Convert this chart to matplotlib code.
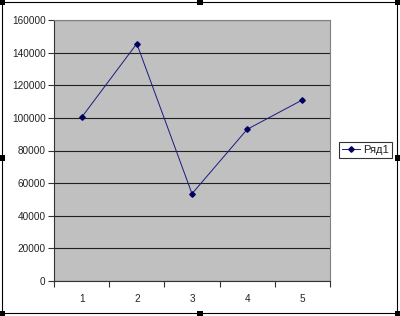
import matplotlib
matplotlib.use("Agg")
import matplotlib.pyplot as plt
from matplotlib.patches import Rectangle
from matplotlib.ticker import FixedLocator

categories = ["1", "2", "3", "4", "5"]
values = [100300, 145500, 53500, 93000, 111000]
series_name = "Ряд1"
yticks = [0, 20000, 40000, 60000, 80000, 100000, 120000, 140000, 160000]

plt.rcParams['font.family'] = ['Liberation Sans', 'DejaVu Sans']
fig = plt.figure(figsize=(4.0, 3.16), dpi=100)
ax = fig.add_axes([54/400, 35/316, 276/400, 261/316])
ax.set_facecolor('#C0C0C0')
x = list(range(1, len(categories) + 1))
ax.plot(x, values, color='#1a1a80', lw=0.7, marker='D', ms=2.8,
        mfc='#000060', mec='#000060', label=series_name)
ax.set_xlim(0.5, len(categories) + 0.5)
ax.set_ylim(0, 160000)
ax.set_yticks(yticks)
ax.set_yticklabels([str(v) for v in yticks])
ax.set_xticks(x)
ax.set_xticklabels(categories)
ax.xaxis.set_minor_locator(FixedLocator([i + 0.5 for i in range(0, len(categories) + 1)]))
ax.tick_params(axis='x', which='major', length=0, pad=9, labelsize=7.2, colors='#222222')
ax.tick_params(axis='x', which='minor', length=4, width=0.8, color='#333333', direction='out')
ax.tick_params(axis='y', which='major', length=4, width=0.8, color='#333333', labelsize=7.2, pad=2, labelcolor='#222222')
ax.grid(axis='y', color='#202020', lw=0.8)
ax.set_axisbelow(True)
for s in ['top', 'right']:
    ax.spines[s].set_color('#808080')
    ax.spines[s].set_linewidth(0.8)
for s in ['left', 'bottom']:
    ax.spines[s].set_color('#333333')
    ax.spines[s].set_linewidth(0.8)

leg = fig.legend(loc='center left', bbox_to_anchor=(339/400, 166/316), fontsize=8,
                 frameon=True, fancybox=False, edgecolor='black', handlelength=1.6,
                 borderpad=0.3, handletextpad=0.25, borderaxespad=0)
leg.get_frame().set_linewidth(0.8)
for t in leg.get_texts():
    t.set_color('#222222')

# figure border and selection handles
fig.patches.append(Rectangle((2/400, 3/316), 395/400, 311/316, transform=fig.transFigure,
                             fill=False, edgecolor='black', lw=0.8))
hw, hh = 6/400, 6/316
for (cx, cy) in [(2, 2), (200, 2), (398, 2), (2, 158), (398, 158), (2, 314), (200, 314), (398, 314)]:
    fig.patches.append(Rectangle((cx/400 - hw/2, 1 - cy/316 - hh/2), hw, hh,
                                 transform=fig.transFigure, facecolor='black', edgecolor='none'))
fig.savefig('out.png', dpi=100)
